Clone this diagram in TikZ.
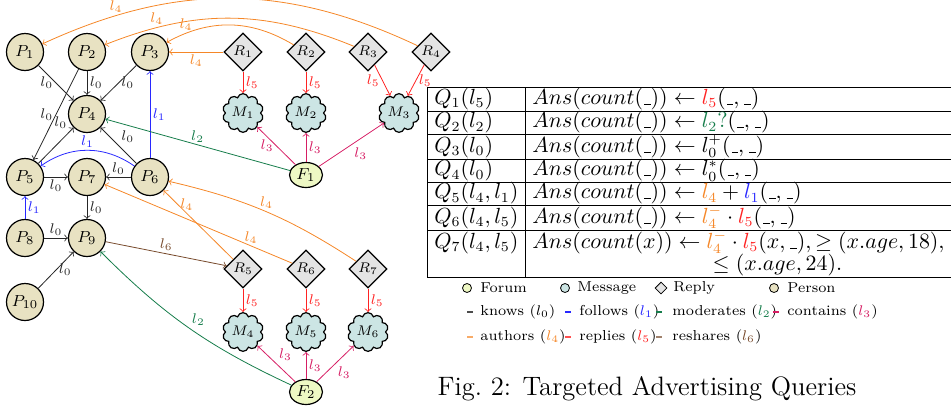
\documentclass[tikz,border=0pt]{standalone}
\usetikzlibrary{shapes.geometric,shapes.symbols}

\definecolor{persfill}{RGB}{232,226,194}
\definecolor{forumfill}{RGB}{238,248,196}
\definecolor{msgfill}{RGB}{204,229,228}
\definecolor{replyfill}{RGB}{228,228,228}
\definecolor{folc}{RGB}{40,40,255}
\definecolor{modc}{RGB}{22,125,75}
\definecolor{conc}{RGB}{214,30,100}
\definecolor{authc}{RGB}{245,135,40}
\definecolor{repc}{RGB}{255,35,35}
\definecolor{shrc}{RGB}{120,75,45}

\newcommand{\blnk}{\mathord{\kern.06em\vbox{\hrule width.3em height.4pt}}}

\begin{document}
\begin{tikzpicture}[x=0.5pt,y=-0.5pt,
  person/.style={draw, semithick, circle, fill=persfill, minimum size=18.5pt, inner sep=0pt, font=\footnotesize},
  reply/.style={draw, semithick, diamond, fill=replyfill, minimum size=19pt, inner sep=0pt, font=\scriptsize},
  message/.style={draw, semithick, cloud, cloud puffs=10, aspect=1, fill=msgfill, minimum width=20.5pt, minimum height=19pt, inner sep=0pt, font=\scriptsize},
  forum/.style={draw, semithick, ellipse, fill=forumfill, minimum width=16.5pt, minimum height=12.5pt, inner sep=0pt, font=\footnotesize},
  rel/.style={->, every node/.style={font=\scriptsize, inner sep=1.2pt}},
  knows/.style={rel, black!85},
  follows/.style={rel, folc},
  moder/.style={rel, modc},
  contains/.style={rel, conc},
  authors/.style={rel, authc},
  replies/.style={rel, repc},
  reshares/.style={rel, shrc},
  legsym/.style={minimum size=4.5pt, inner sep=0pt, thin},
  legdash/.style={minimum width=3pt, minimum height=0.7pt, inner sep=0pt},
  legtext/.style={anchor=west, font=\fontsize{7.2}{8.5}\selectfont, inner sep=0pt}]
\useasboundingbox (0,0) rectangle (951,413);

% persons
\node[person] (p1) at (25,52) {$P_1$};
\node[person] (p2) at (87,52) {$P_2$};
\node[person] (p3) at (150,52) {$P_3$};
\node[person] (p4) at (87,114) {$P_4$};
\node[person] (p5) at (25,177) {$P_5$};
\node[person] (p7) at (87,177) {$P_7$};
\node[person] (p6) at (150,177) {$P_6$};
\node[person] (p8) at (25,238) {$P_8$};
\node[person] (p9) at (87,238) {$P_9$};
\node[person] (p10) at (25,302) {$P_{10}$};

% replies, messages, forums
\node[reply] (r1) at (243,52) {$R_1$};
\node[reply] (r2) at (306,52) {$R_2$};
\node[reply] (r3) at (368,52) {$R_3$};
\node[reply] (r4) at (431,52) {$R_4$};
\node[message] (m1) at (243,113) {$M_1$};
\node[message] (m2) at (306,113) {$M_2$};
\node[message] (m3) at (399,113) {$M_3$};
\node[forum] (f1) at (306,175) {$F_1$};

\node[reply] (r5) at (243,269) {$R_5$};
\node[reply] (r6) at (306,269) {$R_6$};
\node[reply] (r7) at (368,269) {$R_7$};
\node[message] (m4) at (243,332) {$M_4$};
\node[message] (m5) at (306,332) {$M_5$};
\node[message] (m6) at (368,332) {$M_6$};
\node[forum] (f2) at (306,392) {$F_2$};

% knows
\draw[knows] (p1) -- node[left] {$l_0$} (p4);
\draw[knows] (p2) -- node[right] {$l_0$} (p4);
\draw[knows] (p3) -- node[right] {$l_0$} (p4);
\draw[knows] (p2) -- node[left] {$l_0$} (p5);
\draw[knows] (p5) -- node[pos=0.9, above left] {$l_0$} (p4);
\draw[knows] (p6) -- node[above right] {$l_0$} (p4);
\draw[knows] (p6) -- node[above] {$l_0$} (p7);
\draw[knows] (p5) -- node[below] {$l_0$} (p7);
\draw[knows] (p7) -- node[right] {$l_0$} (p9);
\draw[knows] (p8) -- node[above] {$l_0$} (p9);
\draw[knows] (p10) -- node[right] {$l_0$} (p9);

% follows
\draw[follows] (p6) -- node[right] {$l_1$} (p3);
\draw[follows] (p6) to[bend right=35] node[above] {$l_1$} (p5);
\draw[follows] (p8) -- node[right] {$l_1$} (p5);

% moderates
\draw[moder] (f1) -- node[above] {$l_2$} (p4);
\draw[moder] (f2) to[bend left=10] node[above right] {$l_2$} (p9);

% contains
\draw[contains] (f1) -- node[left] {$l_3$} (m1);
\draw[contains] (f1) -- node[right] {$l_3$} (m2);
\draw[contains] (f1) -- node[below right] {$l_3$} (m3);
\draw[contains] (f2) -- node[above right] {$l_3$} (m4);
\draw[contains] (f2) -- node[right] {$l_3$} (m5);
\draw[contains] (f2) -- node[below right] {$l_3$} (m6);

% authors
\draw[authors] (r1) -- node[below] {$l_4$} (p3);
\draw[authors] (r2) to[bend right=30] node[pos=0.85, above] {$l_4$} (p3);
\draw[authors] (r3) to[bend right=22] node[pos=0.8, above] {$l_4$} (p2);
\draw[authors] (r4) to[bend right=25] node[pos=0.81, above] {$l_4$} (p1);
\draw[authors] (r5) -- node[pos=0.8, right] {$l_4$} (p6);
\draw[authors] (r6) -- node[pos=0.22, above] {$l_4$} (p7);
\draw[authors] (r7) to[bend right=10] node[above] {$l_4$} (p6);

% replies
\draw[replies] (r1) -- node[right] {$l_5$} (m1);
\draw[replies] (r2) -- node[right] {$l_5$} (m2);
\draw[replies] (r3) -- node[left] {$l_5$} (m3.117);
\draw[replies] (r4) -- node[right] {$l_5$} (m3.63);
\draw[replies] (r5) -- node[right] {$l_5$} (m4);
\draw[replies] (r6) -- node[right] {$l_5$} (m5);
\draw[replies] (r7) -- node[right] {$l_5$} (m6);

% reshares
\draw[reshares] (p9) -- node[above] {$l_6$} (r5);

% query table
\node[anchor=north west, inner sep=0pt, font=\fontsize{10.6}{12.5}\selectfont] (qtable) at (427,87) {%
\setlength{\tabcolsep}{3.5pt}\renewcommand{\arraystretch}{0.8}%
\begin{tabular}{|l|l}
\hline
$Q_1(l_5)$ & $Ans(count(\blnk)) \leftarrow {\color{repc}l_5}(\blnk,\blnk)$ \\ \hline
$Q_2(l_2)$ & $Ans(count(\blnk)) \leftarrow {\color{modc}l_2?}(\blnk,\blnk)$ \\ \hline
$Q_3(l_0)$ & $Ans(count(\blnk)) \leftarrow l_0^+(\blnk,\blnk)$ \\ \hline
$Q_4(l_0)$ & $Ans(count(\blnk)) \leftarrow l_0^*(\blnk,\blnk)$ \\ \hline
$Q_5(l_4,l_1)$ & $Ans(count(\blnk)) \leftarrow {\color{authc}l_4} + {\color{folc}l_1}(\blnk,\blnk)$ \\ \hline
$Q_6(l_4,l_5)$ & $Ans(count(\blnk)) \leftarrow {\color{authc}l_4^-} \cdot {\color{repc}l_5}(\blnk,\blnk)$ \\ \hline
$Q_7(l_4,l_5)$ & $Ans(count(x)) \leftarrow {\color{authc}l_4^-} \cdot {\color{repc}l_5}(x,\blnk), \geq (x.age,18),$ \\
 & $\hphantom{Ans(count(x)) \leftarrow{}} \leq (x.age,24).$ \\ \hline
\end{tabular}};

% legend
\node[forum, legsym] (lgforum) at (467,288) {};
\node[legtext] (lgforumt) at (480,288) {Forum};
\node[draw, circle, fill=msgfill, legsym] (lgmsg) at (565,288) {};
\node[legtext] (lgmsgt) at (577,288) {Message};
\node[reply, legsym, minimum size=6pt] (lgreply) at (661,288) {};
\node[legtext] (lgreplyt) at (673,288) {Reply};
\node[person, legsym] (lgpers) at (774,288) {};
\node[legtext] (lgperst) at (787,288) {Person};

\node[legdash, fill=black!70] (lgknows) at (470,312) {};
\node[legtext] (lgknowst) at (480,312) {knows ($l_0$)};
\node[legdash, fill=folc] (lgfollows) at (568,312) {};
\node[legtext] (lgfollowst) at (579,312) {follows (${\color{folc}l_1}$)};
\node[legdash, fill=modc] (lgmoder) at (659,312) {};
\node[legtext] (lgmodert) at (672,312) {moderates (${\color{modc}l_2}$)};
\node[legdash, fill=conc] (lgcontains) at (776,312) {};
\node[legtext] (lgcontainst) at (787,312) {contains (${\color{conc}l_3}$)};

\node[legdash, fill=authc!70] (lgauthors) at (470,337) {};
\node[legtext] (lgauthorst) at (480,337) {authors (${\color{authc}l_4}$)};
\node[legdash, fill=repc!80] (lgreplies) at (568,337) {};
\node[legtext] (lgrepliest) at (579,337) {replies (${\color{repc}l_5}$)};
\node[legdash, fill=shrc!70] (lgreshares) at (659,337) {};
\node[legtext] (lgresharest) at (672,337) {reshares (${\color{shrc}l_6}$)};

\node[font=\fontsize{13.3}{16}\selectfont] (caption) at (647,389) {Fig.~2: Targeted Advertising Queries};
\end{tikzpicture}
\end{document}
